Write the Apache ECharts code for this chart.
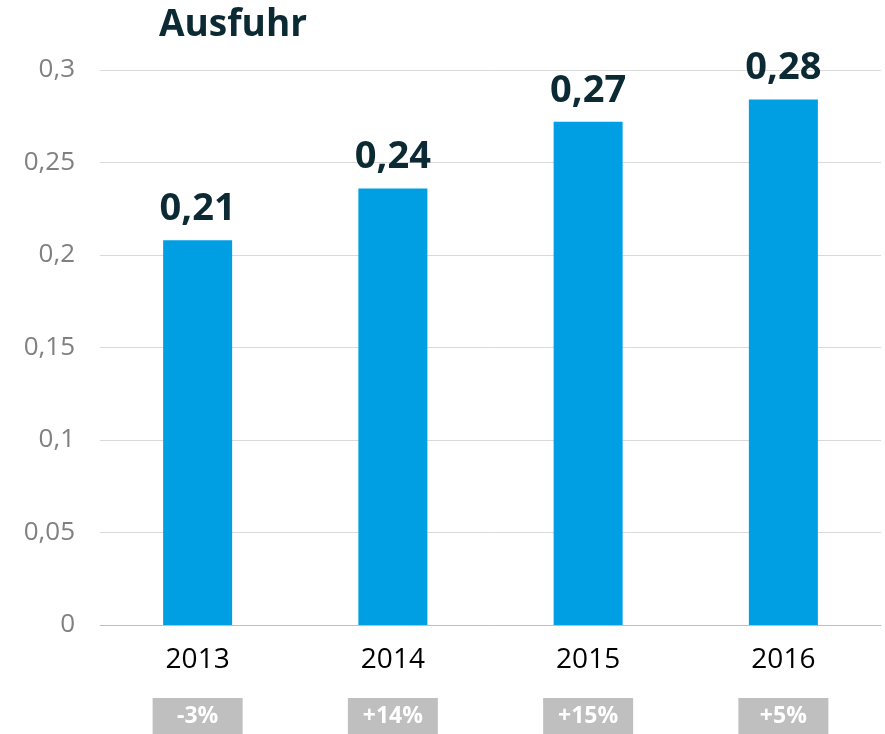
<!DOCTYPE html>
<html>
<head>
<meta charset="utf-8">
<script src="https://cdn.jsdelivr.net/npm/echarts@6/dist/echarts.min.js"></script>
<style>
  html,body{margin:0;padding:0;background:#fff;}
  #chart{width:885px;height:734px;}
</style>
</head>
<body>
<div id="chart"></div>
<script>
var years = ['2013', '2014', '2015', '2016'];
var ausfuhr = [0.208, 0.236, 0.272, 0.284];
var changes = ['-3%', '+14%', '+15%', '+5%'];

var myChart = echarts.init(document.getElementById('chart'));
var fontName = '"Open Sans", "Noto Sans", sans-serif';

var option = {
    animation: false,
    title: {
        text: 'Ausfuhr',
        left: 154,
        top: 2,
        textStyle: {
            color: '#0b2a33',
            fontSize: 37,
            fontWeight: 'bold',
            fontFamily: fontName
        }
    },
    grid: {
        left: 100,
        right: 4,
        top: 70,
        bottom: 109
    },
    xAxis: [
        {
            type: 'category',
            data: years,
            axisLine: { lineStyle: { color: '#bfbfbf', width: 1 } },
            axisTick: { show: false },
            axisLabel: {
                color: '#000',
                fontSize: 28,
                fontFamily: fontName,
                margin: 21
            }
        },
        {
            type: 'category',
            position: 'bottom',
            data: changes,
            axisLine: { show: false },
            axisTick: { show: false },
            axisLabel: {
                color: '#fff',
                fontSize: 23,
                fontWeight: 'bold',
                fontFamily: fontName,
                margin: 73,
                backgroundColor: '#bfbfbf',
                width: 90,
                height: 36,
                lineHeight: 36,
                align: 'center'
            }
        }
    ],
    yAxis: {
        type: 'value',
        min: 0,
        max: 0.3,
        interval: 0.05,
        axisLine: { show: false },
        axisTick: { show: false },
        splitLine: { lineStyle: { color: '#d9d9d9', width: 1 } },
        axisLabel: {
            color: '#808080',
            fontSize: 26,
            fontFamily: fontName,
            margin: 25,
            formatter: function (v) {
                return String(Math.round(v * 100) / 100).replace('.', ',');
            }
        }
    },
    series: [
        {
            name: 'Ausfuhr',
            type: 'bar',
            data: ausfuhr,
            barWidth: 69,
            itemStyle: { color: '#009fe3' },
            label: {
                show: true,
                position: 'top',
                distance: 12,
                color: '#0b2a33',
                fontSize: 38,
                fontWeight: 'bold',
                fontFamily: fontName,
                formatter: function (p) {
                    return p.value.toFixed(2).replace('.', ',');
                }
            }
        }
    ]
};
myChart.setOption(option);
</script>
</body>
</html>
